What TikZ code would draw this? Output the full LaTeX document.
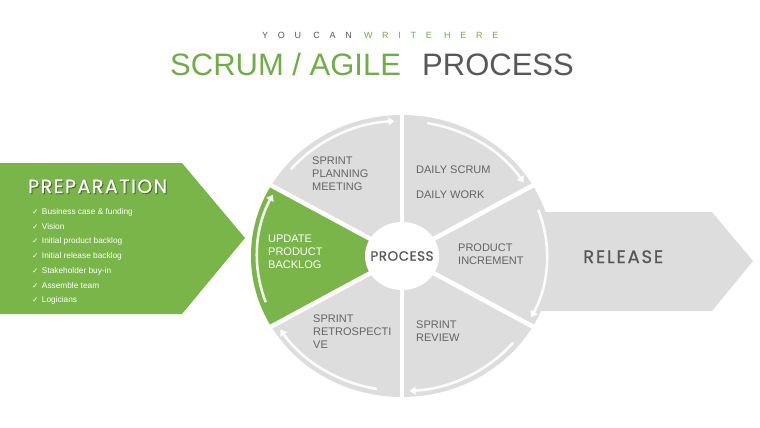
\documentclass[tikz,border=0pt]{standalone}
\usepackage{fontspec}
\setmainfont{Liberation Sans}
\newfontfamily\headfont[FakeBold=0.8]{Poppins}
\newfontfamily\symfont{DejaVu Sans}
\usetikzlibrary{arrows.meta}

\definecolor{scrumgreen}{RGB}{122,181,74}
\definecolor{titlegreen}{RGB}{112,173,71}
\definecolor{darkgreen}{RGB}{66,104,38}
\definecolor{sectorgray}{RGB}{221,221,221}
\definecolor{labelgray}{RGB}{100,100,100}
\definecolor{headgray}{RGB}{88,88,88}

\begin{document}
\begin{tikzpicture}[
    x=1pt, y=1pt,
    label/.style={anchor=west, align=left, inner sep=0pt, text=labelgray, font=\fontsize{11}{13}\selectfont},
    item/.style={anchor=west, inner sep=0pt, text=white, font=\fontsize{8.3}{10}\selectfont},
    heading/.style={anchor=base west, inner sep=0pt},
    rimarrow/.style={white, opacity=0.9, line width=2.6pt, -{Triangle[width=8pt,length=6pt]}},
    divider/.style={white, line width=4.5pt}
]
\useasboundingbox (0,0) rectangle (760,-428);

% title
\node[heading, text=headgray, font=\fontsize{9}{10}\selectfont\addfontfeature{LetterSpace=108}] (tagline) at (262,-38) {YOU CAN \textcolor{titlegreen}{WRITE HERE}};
\node[heading, text=titlegreen, font=\fontsize{31}{36}\selectfont] (title) at (170,-75) {SCRUM / AGILE};
\node[heading, text=headgray, font=\fontsize{31}{36}\selectfont] (titleproc) at (422,-75) {PROCESS};

% preparation arrow
\fill[scrumgreen] (0,-163) -- (182,-163) -- (245,-238) -- (182,-314) -- (0,-314) -- cycle;
\node[heading, text=darkgreen, font=\headfont\fontsize{19}{20}\selectfont\addfontfeature{LetterSpace=8}] (prepshadow) at (29,-194) {PREPARATION};
\node[heading, text=white, font=\headfont\fontsize{19}{20}\selectfont\addfontfeature{LetterSpace=8}] (prep) at (28,-193) {PREPARATION};
\foreach \txt [count=\i] in {Business case \& funding, Vision, Initial product backlog,
    Initial release backlog, Stakeholder buy-in, Assemble team, Logicians}
  \node[item] (item\i) at (32,{-212-14.8*(\i-1)}) {{\symfont\fontsize{7.5}{8}\selectfont ✓}\hspace{3.5pt}\txt};

% release arrow
\fill[sectorgray] (530,-212) -- (712,-212) -- (753,-261) -- (712,-311) -- (530,-311) -- cycle;
\node[heading, text=headgray, font=\headfont\fontsize{18}{20}\selectfont\addfontfeature{LetterSpace=10}] (release) at (583,-263) {RELEASE};

% process wheel
\begin{scope}[shift={(402,-256)}]
  \fill[sectorgray] (0,0) ellipse [x radius=151, y radius=141];
  \fill[scrumgreen] (0,0) -- (150:151 and 141) arc[start angle=150, end angle=210, x radius=151, y radius=141] -- cycle;
  \foreach \a in {30,90,...,330}
    \draw[divider] (0,0) -- (\a:152 and 142);
  \foreach \a in {90,30,-30,-90,-150,150}
    \draw[rimarrow] (\a+50:145 and 135) arc[start angle=\a+50, end angle=\a+3, x radius=145, y radius=135];
  \fill[white] (0,0) ellipse [x radius=37, y radius=34];
  \node[text=headgray, font=\headfont\fontsize{13.5}{15}\selectfont\addfontfeature{LetterSpace=4}] (process) at (0,0) {PROCESS};
\end{scope}

% sector labels
\node[label] (planning) at (312,-174) {SPRINT\\PLANNING\\MEETING};
\node[label] (scrum) at (416,-170) {DAILY SCRUM};
\node[label] (work) at (416,-195) {DAILY WORK};
\node[label] (increment) at (458,-254.5) {PRODUCT\\INCREMENT};
\node[label] (review) at (416,-331.5) {SPRINT\\REVIEW};
\node[label] (retro) at (313,-332) {SPRINT\\RETROSPECTI\\VE};
\node[label, text=white] (backlog) at (268,-252) {UPDATE\\PRODUCT\\BACKLOG};
\end{tikzpicture}
\end{document}
